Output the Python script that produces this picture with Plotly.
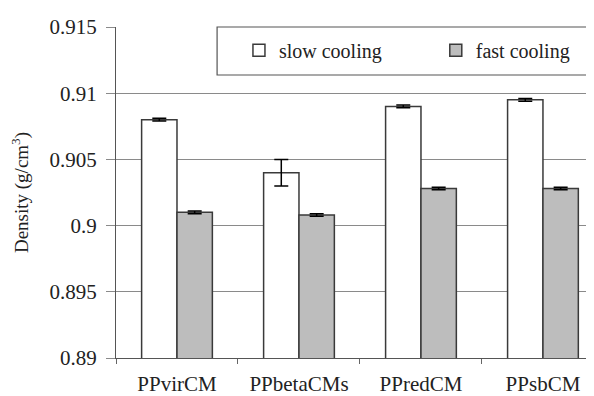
import plotly.graph_objects as go

categories = ["PPvirCM", "PPbetaCMs", "PPredCM", "PPsbCM"]
slow_cooling = [0.9080, 0.9040, 0.9090, 0.9095]
slow_err = [0.0001, 0.0010, 0.0001, 0.0001]
fast_cooling = [0.9010, 0.9008, 0.9028, 0.9028]
fast_err = [0.0001, 0.0001, 0.0001, 0.0001]
tick_vals = [0.89, 0.895, 0.9, 0.905, 0.91, 0.915]
tick_text = ["0.89", "0.895", "0.9", "0.905", "0.91", "0.915"]

FONT = "Liberation Serif"
EDGE = "#3a3a3a"
TXT = "#222222"

fig = go.Figure()
fig.add_trace(go.Bar(
    name="slow cooling", x=categories, y=slow_cooling, legend="legend",
    marker=dict(color="white", line=dict(color=EDGE, width=1.5)),
    error_y=dict(type="data", array=slow_err, color="black", thickness=1.5, width=7),
))
fig.add_trace(go.Bar(
    name="fast cooling", x=categories, y=fast_cooling, legend="legend2",
    marker=dict(color="#bdbdbd", line=dict(color=EDGE, width=1.5)),
    error_y=dict(type="data", array=fast_err, color="black", thickness=1.5, width=7),
))

legend_common = dict(
    orientation="h", yanchor="middle", xanchor="left",
    bgcolor="rgba(0,0,0,0)", borderwidth=0,
    font=dict(family=FONT, size=20, color=TXT),
)

fig.update_layout(
    width=594, height=396,
    margin=dict(l=108, r=0, t=19, b=46, autoexpand=False),
    paper_bgcolor="white", plot_bgcolor="white",
    barmode="group", bargap=0.42, bargroupgap=0,
    font=dict(family=FONT, color=TXT, size=20),
    showlegend=True,
    legend=dict(x=0.253, y=0.93, **legend_common),
    legend2=dict(x=0.658, y=0.93, **legend_common),
    shapes=[dict(
        type="rect", xref="paper", yref="paper",
        x0=0.208, x1=1.01, y0=0.855, y1=1.0,
        line=dict(color="#555", width=1.2), fillcolor="white", layer="below",
    )],
)

fig.update_xaxes(
    range=[-0.5, 3.484], showgrid=False, automargin=False,
    showline=True, linecolor="#555", linewidth=1.2,
    ticks="outside", tickson="boundaries", ticklen=5, tickcolor="#666",
    ticklabelstandoff=7,
    tickfont=dict(family=FONT, size=21, color=TXT),
    fixedrange=True,
)
fig.update_yaxes(
    range=[0.89, 0.915], tickvals=tick_vals, ticktext=tick_text, automargin=False,
    showgrid=True, gridcolor="#8a8a8a", gridwidth=1,
    showline=True, linecolor="#555", linewidth=1.2,
    ticks="outside", ticklen=9, tickcolor="#8a8a8a",
    ticklabelstandoff=5,
    tickfont=dict(family=FONT, size=21, color=TXT),
    title=dict(text="Density (g/cm<sup>3</sup>)", font=dict(family=FONT, size=19, color=TXT), standoff=23),
    zeroline=False, fixedrange=True,
)

fig.write_html("out.html")
